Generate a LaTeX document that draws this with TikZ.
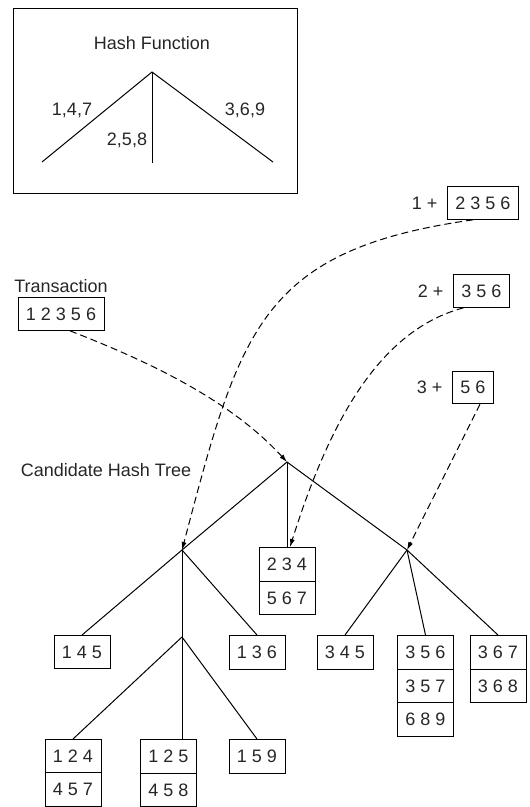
\documentclass[tikz,border=0pt]{standalone}
\usepackage{fontspec}
\setmainfont{Liberation Sans}
\usetikzlibrary{shapes.multipart, arrows.meta, positioning}

\begin{document}
\begin{tikzpicture}[
    x=1pt, y=-1pt,
    every node/.style={font=\fontsize{18}{21}\selectfont, text=black!85},
    item/.style={draw, line width=0.9pt, inner xsep=8pt, inner ysep=10pt},
    bucket/.style={rectangle split, rectangle split parts=#1, draw, line width=0.9pt,
                   inner xsep=8pt, inner ysep=10pt, anchor=north},
    branch/.style={line width=1pt},
    probe/.style={-{Latex[length=8pt,width=5pt]}, dash pattern=on 7pt off 4pt, line width=1pt},
    node distance=10pt
]
    \useasboundingbox (0,0) rectangle (530,807);

    % hash function
    \node[draw, line width=0.9pt, minimum width=284pt, minimum height=185pt, inner sep=0pt] (hbox) at (155,100.5) {};
    \node (htitle) at (152,43) {Hash Function};
    \coordinate (happ) at (152,72);
    \coordinate (hl) at (42,162);
    \coordinate (hm) at (152,163);
    \coordinate (hr) at (273,162);
    \draw[branch] (hl) -- (happ) -- (hr);
    \draw[branch] (happ) -- (hm);
    \node (h147) at (72,110) {1,4,7};
    \node (h258) at (127,140) {2,5,8};
    \node (h369) at (245,110) {3,6,9};

    % transaction and its subsets
    \node[item] (tx) at (61,314) {1 2 3 5 6};
    \node[above=1pt of tx] (txlabel) {Transaction};
    \node[item] (s1) at (483,203) {2 3 5 6};
    \node[left=6pt of s1] (s1l) {1 +};
    \node[item] (s2) at (481.5,291) {3 5 6};
    \node[left=6pt of s2] (s2l) {2 +};
    \node[item] (s3) at (473,387.5) {5 6};
    \node[left=6pt of s3] (s3l) {3 +};

    % candidate hash tree
    \node (ttitle) at (106,470) {Candidate Hash Tree};
    \coordinate (root) at (287,462);
    \coordinate (lnode) at (182,550);
    \coordinate (rnode) at (407,550);
    \coordinate (lsub) at (182,637);

    \node[bucket=2] (b234) at (287,547) {2 3 4 \nodepart{two} 5 6 7};
    \node[bucket=1] (b145) at (82,635) {1 4 5};
    \node[bucket=1] (b136) at (257,635) {1 3 6};
    \node[bucket=1] (b345) at (345,635) {3 4 5};
    \node[bucket=3] (b356) at (425.5,635) {3 5 6 \nodepart{two} 3 5 7 \nodepart{three} 6 8 9};
    \node[bucket=2] (b367) at (498,635) {3 6 7 \nodepart{two} 3 6 8};
    \node[bucket=2] (b124) at (73,739) {1 2 4 \nodepart{two} 4 5 7};
    \node[bucket=2] (b125) at (168.5,739) {1 2 5 \nodepart{two} 4 5 8};
    \node[bucket=1] (b159) at (257,739) {1 5 9};

    \draw[branch] (lnode) -- (root) -- (rnode);
    \draw[branch] (root) -- (b234.north);
    \draw[branch] (b145.north) -- (lnode) -- (b136.north);
    \draw[branch] (lnode) -- (lsub);
    \draw[branch] (b124.north) -- (lsub) -- (b159.north);
    \draw[branch] (lsub) -- (lsub |- b125.north);
    \draw[branch] (b345.north) -- (rnode) -- (b367.north);
    \draw[branch] (rnode) -- (b356.north);

    % probes
    \draw[probe] ([xshift=9pt]tx.south) .. controls (150,362) and (230,400) .. (root);
    \draw[probe] ([xshift=-10pt]s1.south) .. controls (260,250) and (240,330) .. (lnode);
    \draw[probe] ([xshift=-18pt]s2.south) .. controls (380,330) and (330,420) .. ([xshift=3pt]b234.north);
    \draw[probe] ([xshift=7pt]s3.south) -- (rnode);
\end{tikzpicture}
\end{document}
